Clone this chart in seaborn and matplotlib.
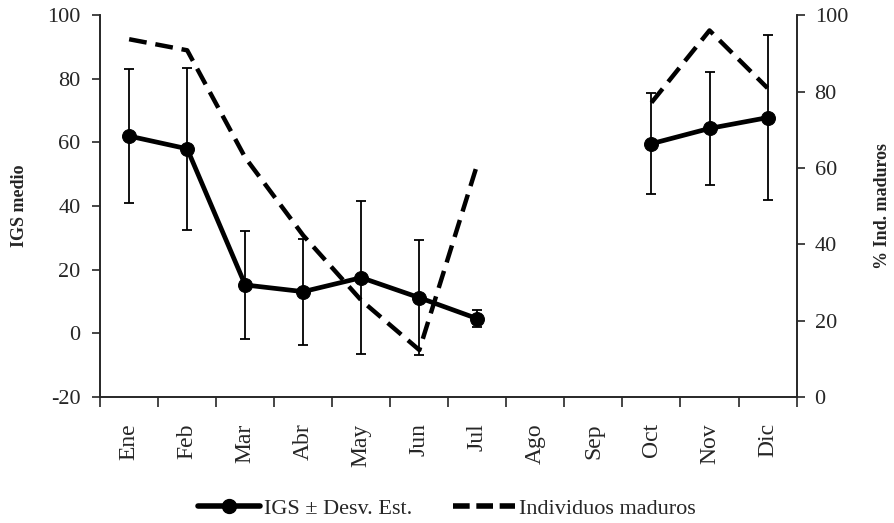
import numpy as np
import pandas as pd
import matplotlib
matplotlib.use("Agg")
import matplotlib.pyplot as plt
import seaborn as sns
from matplotlib.lines import Line2D

months = ["Ene", "Feb", "Mar", "Abr", "May", "Jun", "Jul", "Ago", "Sep", "Oct", "Nov", "Dic"]
igs_mean = [62.0, 58.0, 15.2, 13.1, 17.5, 11.2, 4.6, np.nan, np.nan, 59.6, 64.4, 67.8]
igs_sd = [21.0, 25.5, 17.0, 16.7, 24.0, 18.0, 2.7, np.nan, np.nan, 15.8, 17.8, 26.0]
pct_maduros = [93.7, 90.8, 62.7, 42.3, 25.3, 12.3, 61.0, np.nan, np.nan, 77.1, 96.0, 80.9]

sns.set_style("ticks")
plt.rcParams['font.family'] = ['Liberation Serif', 'DejaVu Serif']
plt.rcParams['axes.unicode_minus'] = False

pos = np.arange(len(months))
seg = [0 if i < 7 else 1 for i in range(len(months))]
df = pd.DataFrame({"pos": pos, "month": months, "igs": igs_mean, "sd": igs_sd,
                   "pct": pct_maduros, "seg": seg})
dfv = df.dropna()

fig = plt.figure(figsize=(8.94, 5.23), dpi=100)
ax = fig.add_axes([0.112, 0.241, 0.779, 0.730])
ax2 = ax.twinx()

ax.errorbar(dfv["pos"], dfv["igs"], yerr=dfv["sd"], fmt="none", ecolor="black",
            elinewidth=1.3, capsize=3.5, capthick=1.3, zorder=3)
sns.lineplot(data=dfv, x="pos", y="igs", units="seg", estimator=None, color="black",
             lw=3.4, marker="o", markersize=10, markeredgecolor="black", ax=ax, zorder=4)
sns.lineplot(data=dfv, x="pos", y="pct", units="seg", estimator=None, color="black",
             lw=3.2, ax=ax2, zorder=2)
for l in ax2.lines:
    l.set_dashes([4.0, 2.0])

ax.set_xlim(-0.5, len(months) - 0.5)
ax.set_ylim(-20, 100)
ax.set_yticks(np.arange(-20, 101, 20))
ax2.set_ylim(0, 100)
ax2.set_yticks(np.arange(0, 101, 20))

ax.set_xticks(np.arange(-0.5, len(months), 1.0))
ax.set_xticklabels([])
ax.set_xticks(pos, minor=True)
ax.set_xticklabels(months, minor=True, rotation=90, fontsize=17)
ax.tick_params(axis="x", which="minor", length=0, pad=19)
ax.tick_params(axis="x", which="major", length=7, width=1.2, direction="out")
ax.tick_params(axis="y", labelsize=16, length=6, width=1.2, pad=8)
ax2.tick_params(axis="y", labelsize=16, length=6, width=1.2, pad=7)

ax.set_xlabel("")
ax.set_ylabel("IGS medio", fontsize=13, fontweight="bold", labelpad=14)
ax2.set_ylabel("% Ind. maduros", fontsize=13, fontweight="bold", labelpad=19)

for a in (ax, ax2):
    a.spines["top"].set_visible(False)
    for s in ("left", "right", "bottom"):
        a.spines[s].set_linewidth(1.2)
ax.spines["right"].set_visible(True)

handles = [Line2D([0], [0], color="black", lw=4, marker="o", markersize=10),
           Line2D([0], [0], color="black", lw=4, dashes=[3.0, 1.2])]
fig.legend(handles, ["IGS ± Desv. Est.", "Individuos maduros"], loc="lower center",
           bbox_to_anchor=(0.5, -0.03), ncol=2, frameon=False, fontsize=16,
           handlelength=2.8, columnspacing=1.8, handletextpad=0.2)

fig.savefig("out.png", dpi=100)
